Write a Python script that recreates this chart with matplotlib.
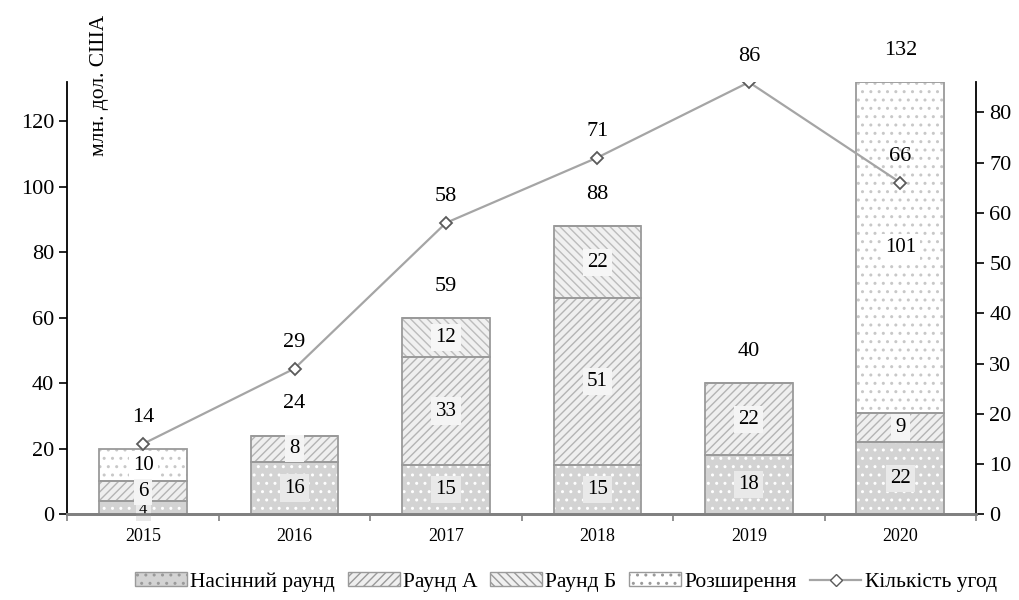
import numpy as np
import matplotlib.pyplot as plt
from matplotlib.patches import Patch
from matplotlib.lines import Line2D

plt.rcParams['font.family'] = ['Liberation Serif', 'DejaVu Serif']
plt.rcParams['hatch.linewidth'] = 1.0

# Дані: обсяг інвестицій за раундами (млн. дол. США) та кількість угод
years = ['2015', '2016', '2017', '2018', '2019', '2020']
seed = [4, 16, 15, 15, 18, 22]
round_a = [6, 8, 33, 51, 22, 9]
round_b = [0, 0, 12, 22, 0, 0]
expansion = [10, 0, 0, 0, 0, 101]
totals = [None, 24, 59, 88, 40, 132]
deals = [14, 29, 58, 71, 86, 66]

series_names = ['Насінний раунд', 'Раунд А', 'Раунд Б', 'Розширення']
# (заливка, штрихування, колір штриха, фон підпису)
styles = [
    ('#d3d3d3', '..', '#ffffff', '#e9e9e9'),
    ('#efefef', '////', '#b4b4b4', '#f4f4f4'),
    ('#f0f0f0', '\\\\\\\\', '#bcbcbc', '#f6f6f6'),
    ('#ffffff', '..', '#c8c8c8', '#ffffff'),
]
edge = '#9a9a9a'

fig = plt.figure(figsize=(10.2, 6), dpi=100)
ax = fig.add_axes([0.066, 0.143, 0.891, 0.72])
ax2 = ax.twinx()

x = np.arange(len(years))
width = 0.58
bottom = np.zeros(len(years))
for values, (fc, hatch, hc, lbg) in zip([seed, round_a, round_b, expansion], styles):
    vals = np.array(values, dtype=float)
    # шар зі штрихуванням
    ax.bar(x, vals, width, bottom=bottom, color=fc, hatch=hatch,
           edgecolor=hc, linewidth=0, zorder=2)
    # контур сегментів
    ax.bar(x, vals, width, bottom=bottom, fill=False,
           edgecolor=edge, linewidth=1.3, zorder=3)
    for xi, v, b in zip(x, vals, bottom):
        if v > 0:
            small = v < 5
            ax.text(xi, b + v / 2 - (0.6 if small else 0), f'{int(v)}',
                    ha='center', va='center', fontsize=12 if small else 15,
                    zorder=4 if small else 5,
                    bbox=dict(boxstyle='square,pad=0.2', fc=lbg, ec='none'))
    bottom += vals

for xi, t, top in zip(x, totals, bottom):
    if t is not None:
        ax.annotate(f'{t}', (xi, top), xytext=(0, 16), textcoords='offset points',
                    ha='center', va='bottom', fontsize=16)

ax.set_xlim(-0.5, len(years) - 0.5)
ax.set_ylim(0, 132)
ax.set_yticks(np.arange(0, 121, 20))
ax.set_xticks(x)
ax.set_xticklabels(years, fontsize=13)
ax.set_xticks(np.arange(-0.5, len(years)), minor=True)
ax.tick_params(axis='x', which='major', length=0, pad=10)
ax.tick_params(axis='x', which='minor', length=5, width=1.2, color='#808080')
ax.tick_params(axis='y', labelsize=16, length=6, width=1.2, direction='out')

# лінія кількості угод на правій осі
ax2.plot(x, deals, color='#a5a5a5', linewidth=1.6, marker='D', markersize=6,
         markerfacecolor='white', markeredgecolor='#5a5a5a', markeredgewidth=1.3,
         zorder=4)
for xi, d in zip(x, deals):
    ax2.annotate(f'{d}', (xi, d), xytext=(0, 12), textcoords='offset points',
                 ha='center', va='bottom', fontsize=16)
ax2.set_ylim(0, 86)
ax2.set_yticks(np.arange(0, 81, 10))
ax2.tick_params(axis='y', labelsize=16, length=6, width=1.2, direction='out')

for a in (ax, ax2):
    a.spines['top'].set_visible(False)
    a.spines['left'].set_linewidth(1.3)
    a.spines['right'].set_linewidth(1.3)
    a.spines['bottom'].set_color('#808080')
    a.spines['bottom'].set_linewidth(2)
ax2.spines['left'].set_visible(False)
ax.spines['right'].set_visible(False)
ax.set_zorder(ax2.get_zorder() - 1)
ax.patch.set_visible(False)

fig.text(0.098, 0.975, 'млн. дол. США', rotation=90, ha='center', va='top',
         fontsize=15.5)

handles = [Patch(facecolor=fc, hatch=h, edgecolor=edge, linewidth=1)
           for fc, h, hc, lbg in styles]
handles.append(Line2D([0], [0], color='#a5a5a5', linewidth=1.6, marker='D',
                      markersize=6, markerfacecolor='white',
                      markeredgecolor='#5a5a5a'))
fig.legend(handles, series_names + ['Кількість угод'], loc='center',
           bbox_to_anchor=(0.555, 0.03), ncol=5, frameon=False, fontsize=15.5,
           handlelength=2.4, handletextpad=0.15, columnspacing=0.6,
           handleheight=0.6)

fig.savefig('out.png', dpi=100)
